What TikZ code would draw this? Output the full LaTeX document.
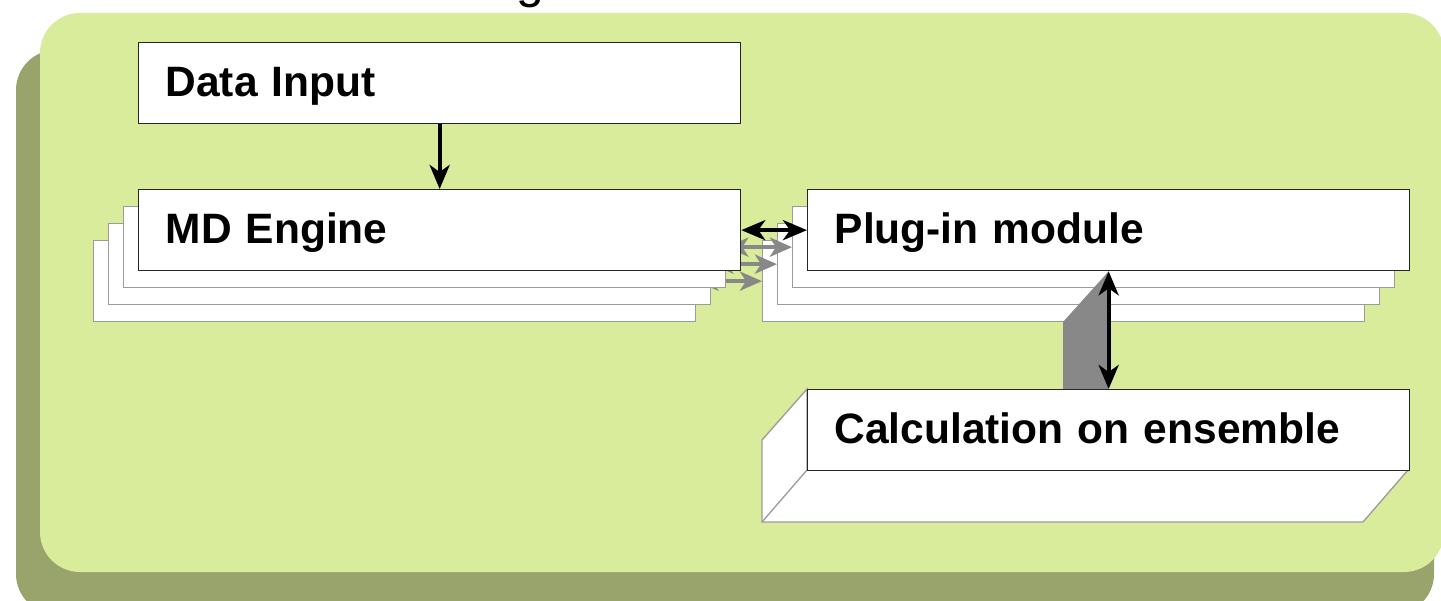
\documentclass[tikz,border=0pt]{standalone}
\usepackage{fontspec}
\setmainfont{Liberation Sans}
\usetikzlibrary{arrows.meta}
\definecolor{bggreen}{RGB}{216,236,156}
\definecolor{shadowgreen}{RGB}{152,164,108}
\definecolor{conngray}{RGB}{136,136,136}
\definecolor{backedge}{RGB}{155,155,155}
\tikzset{
  box/.style={draw=black!85, line width=1.3pt, fill=white, anchor=north west,
    minimum width=602pt, minimum height=81pt, inner sep=0pt,
    text width=548pt, align=left, text height=31pt, text depth=4pt,
    font=\fontsize{42.5}{50}\selectfont\bfseries},
  backbox/.style={draw=backedge, line width=1.3pt, fill=white, anchor=north west,
    minimum width=602pt, minimum height=81pt, inner sep=0pt},
  blacktip/.tip={Stealth[length=24pt,width=20pt,inset=7pt]},
  graytip/.tip={Stealth[length=22pt,width=19pt,inset=6pt]},
  blackarrow/.style={line width=4pt, draw=black, blacktip-blacktip},
  downarrow/.style={line width=4pt, draw=black, -blacktip},
  grayarrow/.style={line width=4.5pt, draw=conngray, graytip-graytip},
  extrude/.style={draw=backedge, line width=1.3pt, fill=white, line join=miter},
}
\begin{document}
\begin{tikzpicture}[x=1pt,y=-1pt]
\path[use as bounding box, clip] (0,0) rectangle (1441,601);
\fill[white] (0,0) rectangle (1441,601);
% title fragment
\node[font=\fontsize{50}{60}\selectfont, anchor=base] (title) at (530,-2) {g};
% panel and shadow
\fill[shadowgreen, rounded corners=40pt] (16,50) rectangle (1434,614);
\fill[bggreen, rounded corners=40pt] (40,13) rectangle (1444,572);
% data input
\node[box] (di) at (138,42) {Data Input};
% stacked copies, back to front
\foreach \k in {3,2,1} {
  \node[backbox] (md\k) at ({138-15*\k},{189+17*\k}) {};
  \node[backbox] (pi\k) at ({807-15*\k},{189+17*\k}) {};
  \draw[grayarrow] (md\k.east) -- (pi\k.west);
}
\node[box] (md0) at (138,189) {MD Engine};
\node[box] (pi0) at (807,189) {Plug-in module};
\draw[blackarrow] (md0.east) -- (pi0.west);
\draw[downarrow] (di.south) -- (md0.north);
% gray link body
\fill[conngray] (pi0.south) -- (1063,322) -- (1063,389) -- (1108,389) -- cycle;
% calculation box with extrusion
\draw[extrude] (807,389) -- (762,440) -- (762,522) -- (1363,522) -- (1408,470) -- (807,470) -- cycle;
\draw[draw=backedge, line width=1.3pt] (807,470) -- (762,522);
\node[box] (calc) at (807,389) {Calculation on ensemble};
\draw[blackarrow] (pi0.south) -- (calc.north);
\end{tikzpicture}
\end{document}
